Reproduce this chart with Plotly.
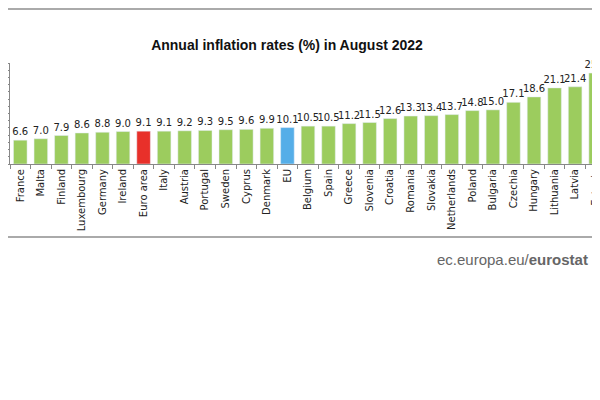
import plotly.graph_objects as go

countries = ["France","Malta","Finland","Luxembourg","Germany","Ireland","Euro area","Italy","Austria","Portugal","Sweden","Cyprus","Denmark","EU","Belgium","Spain","Greece","Slovenia","Croatia","Romania","Slovakia","Netherlands","Poland","Bulgaria","Czechia","Hungary","Lithuania","Latvia","Estonia"]
values = [6.6,7.0,7.9,8.6,8.8,9.0,9.1,9.1,9.2,9.3,9.5,9.6,9.9,10.1,10.5,10.5,11.2,11.5,12.6,13.3,13.4,13.7,14.8,15.0,17.1,18.6,21.1,21.4,25.2]
colors = ["#e8302a" if c=="Euro area" else "#55aee8" if c=="EU" else "#9ccc5e" for c in countries]

fig = go.Figure(go.Bar(x=countries, y=values, marker_color=colors, width=0.66,
    text=[f"{v:.1f}" for v in values], textposition="outside", cliponaxis=False,
    constraintext="none",
    textfont=dict(family="DejaVu Sans", size=10, color="#222")))
fig.update_layout(width=600, height=400, margin=dict(l=2, r=0, t=55, b=244, autoexpand=False),
    plot_bgcolor="white", paper_bgcolor="white", showlegend=False, bargap=0.34,
    title=dict(text="<b>Annual inflation rates (%) in August 2022</b>", x=0.465, y=0.907,
               xanchor="center", yanchor="middle", font=dict(family="Liberation Sans", size=14, color="#111")))
fig.update_xaxes(range=[-0.5, 28.6], tickangle=-90, showline=True, linecolor="#888",
    ticks="outside", ticklen=4, tickcolor="#888", tickson="boundaries", automargin=False,
    tickfont=dict(family="DejaVu Sans", size=10, color="#222"))
fig.update_yaxes(range=[0, 28], dtick=2, showticklabels=False, showgrid=False, automargin=False,
    showline=True, linecolor="#888", ticks="outside", ticklen=4, tickcolor="#888")
fig.add_shape(type="line", xref="paper", yref="paper", x0=-0.01, x1=1, y0=1.535, y1=1.535,
    line=dict(color="#aaa", width=2))
fig.add_shape(type="line", xref="paper", yref="paper", x0=-0.01, x1=1, y0=-0.723, y1=-0.723,
    line=dict(color="#aaa", width=2))
fig.add_annotation(xref="paper", yref="paper", x=0.97, y=-0.95, xanchor="right", yanchor="middle",
    text="ec.europa.eu/<b>eurostat</b>", showarrow=False,
    font=dict(family="Liberation Sans", size=15, color="#666"))
fig.write_html("out.html")
